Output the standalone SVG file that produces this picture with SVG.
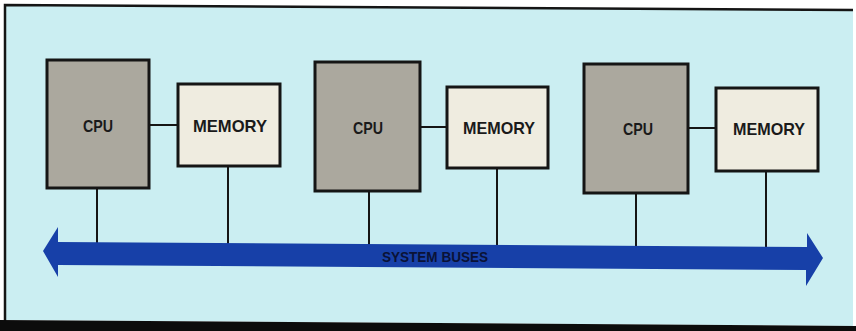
<svg xmlns="http://www.w3.org/2000/svg" width="856" height="331" viewBox="0 0 856 331">
<style>
.cpu{fill:#aba89e;stroke:#151515;stroke-width:3}
.mem{fill:#efece0;stroke:#151515;stroke-width:3}
.ln{stroke:#151515;stroke-width:2;fill:none}
.lbl{font-family:"Liberation Sans",Arial,sans-serif;font-weight:bold;font-size:17px;fill:#1a1a1a;text-anchor:middle}
.bus{font-family:"Liberation Sans",Arial,sans-serif;font-weight:bold;font-size:14px;fill:#0a1236;text-anchor:middle}
</style>
<rect x="0" y="0" width="856" height="331" fill="#ffffff"/>
<polygon points="6,5 853,10 853,326 6,320" fill="#cbeef2"/>
<polyline points="5,321 5,5 853,10" fill="none" stroke="#151515" stroke-width="2.5"/>
<polygon points="0,320 856,326 856,331 0,331" fill="#0c0c0c"/>
<g id="connectors">
<line class="ln" x1="149" y1="125" x2="178" y2="125"/>
<line class="ln" x1="97" y1="188" x2="97" y2="244"/>
<line class="ln" x1="228" y1="166" x2="228" y2="244"/>
<line class="ln" x1="420" y1="127" x2="447" y2="127"/>
<line class="ln" x1="369" y1="191" x2="369" y2="245"/>
<line class="ln" x1="497" y1="168" x2="497" y2="246"/>
<line class="ln" x1="688" y1="128" x2="716" y2="128"/>
<line class="ln" x1="636" y1="193" x2="636" y2="247"/>
<line class="ln" x1="766" y1="171" x2="766" y2="248"/>
</g>
<g id="bus">
<polygon points="43,251 58,227 58,242 807,247 807,233 823,258 806,286 806,270 58,265 58,277" fill="#1740a8"/>
<text class="bus" x="435" y="262" textLength="106" lengthAdjust="spacingAndGlyphs">SYSTEM BUSES</text>
</g>
<g id="cpu1"><rect class="cpu" x="47" y="60" width="102" height="128"/><text class="lbl" x="98" y="132" textLength="30" lengthAdjust="spacingAndGlyphs">CPU</text></g>
<g id="memory1"><rect class="mem" x="178" y="84" width="102" height="82"/><text class="lbl" x="230" y="132" textLength="74" lengthAdjust="spacingAndGlyphs">MEMORY</text></g>
<g id="cpu2"><rect class="cpu" x="315" y="62" width="105" height="129"/><text class="lbl" x="368" y="134" textLength="30" lengthAdjust="spacingAndGlyphs">CPU</text></g>
<g id="memory2"><rect class="mem" x="447" y="87" width="101" height="81"/><text class="lbl" x="499" y="134" textLength="72" lengthAdjust="spacingAndGlyphs">MEMORY</text></g>
<g id="cpu3"><rect class="cpu" x="584" y="64" width="104" height="129"/><text class="lbl" x="638" y="135" textLength="30" lengthAdjust="spacingAndGlyphs">CPU</text></g>
<g id="memory3"><rect class="mem" x="716" y="88" width="102" height="83"/><text class="lbl" x="769" y="135" textLength="72" lengthAdjust="spacingAndGlyphs">MEMORY</text></g>
</svg>
